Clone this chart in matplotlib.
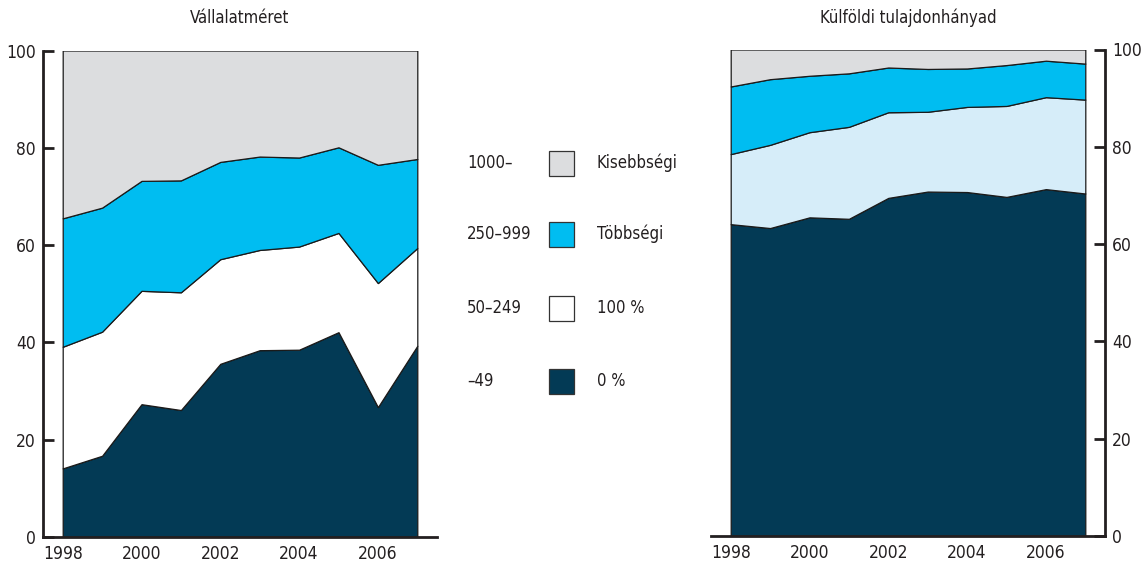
import matplotlib
matplotlib.use('Agg')
import matplotlib.pyplot as plt
from matplotlib.patches import Rectangle
from matplotlib import font_manager

# pick a narrow font if one is installed
names = set(f.name for f in font_manager.fontManager.ttflist)
if 'Liberation Sans Narrow' in names:
    plt.rcParams['font.family'] = ['Liberation Sans Narrow', 'DejaVu Sans']
else:
    plt.rcParams['font.family'] = ['DejaVu Sans']
    plt.rcParams['font.stretch'] = 'condensed'

txt = '#231f20'
plt.rcParams['text.color'] = txt
plt.rcParams['xtick.color'] = txt
plt.rcParams['ytick.color'] = txt

years = [1998, 1999, 2000, 2001, 2002, 2003, 2004, 2005, 2006, 2007]

# Vállalatméret (létszám-kategóriák), %
size_49 = [14.1, 16.7, 27.3, 26.1, 35.6, 38.4, 38.5, 42.1, 26.7, 39.3]
size_50_249 = [25.0, 25.5, 23.3, 24.2, 21.5, 20.6, 21.2, 20.4, 25.5, 20.1]
size_250_999 = [26.4, 25.5, 22.6, 23.0, 20.0, 19.2, 18.3, 17.6, 24.3, 18.3]
size_1000 = [34.5, 32.3, 26.8, 26.7, 22.9, 21.8, 22.0, 19.9, 23.5, 22.3]

# Külföldi tulajdonhányad, %
own_0 = [64.1, 63.3, 65.5, 65.2, 69.5, 70.8, 70.7, 69.7, 71.3, 70.4]
own_100 = [14.4, 17.1, 17.5, 18.9, 17.6, 16.4, 17.5, 18.7, 18.9, 19.3]
own_major = [13.9, 13.5, 11.6, 11.0, 9.2, 8.8, 7.9, 8.4, 7.5, 7.4]
own_minor = [7.6, 6.1, 5.4, 4.9, 3.7, 4.0, 3.9, 3.2, 2.3, 2.9]

size_labels = ['1000–', '250–999', '50–249', '–49']
own_labels = ['Kisebbségi', 'Többségi', '100 %', '0 %']

navy = '#033a55'
cyan = '#00bdf1'
grey = '#dcdddf'
pale = '#d6edf9'

fig = plt.figure(figsize=(11.41, 5.67), dpi=100)

ax1 = fig.add_axes([43/1141, 30/567, 394/1141, 486.5/567])
ax2 = fig.add_axes([711/1141, 31/567, 394/1141, 486.5/567])

ax1.stackplot(years, size_49, size_50_249, size_250_999, size_1000,
              colors=[navy, 'white', cyan, grey], edgecolor='#1a1a1a', linewidth=0.9)
ax2.stackplot(years, own_0, own_100, own_major, own_minor,
              colors=[navy, pale, cyan, grey], edgecolor='#1a1a1a', linewidth=0.9)

for ax in (ax1, ax2):
    ax.set_xlim(1997.5, 2007.5)
    ax.set_ylim(0, 100)
    ax.set_xticks([1998, 2000, 2002, 2004, 2006])
    ax.set_yticks([0, 20, 40, 60, 80, 100])
    ax.tick_params(axis='x', length=0, pad=6, labelsize=12.5)
    ax.tick_params(axis='y', direction='in', length=8, width=2, pad=5, labelsize=12.5)
    ax.spines['top'].set_visible(False)
    for s in ax.spines.values():
        s.set_linewidth(2)
        s.set_color(txt)

ax1.spines['right'].set_visible(False)
ax2.spines['left'].set_visible(False)
ax2.yaxis.tick_right()

fig.text(240/1141, 1 - 18/567, 'Vállalatméret', ha='center', va='center', fontsize=12)
fig.text(908/1141, 1 - 18/567, 'Külföldi tulajdonhányad', ha='center', va='center', fontsize=12)

# közös jelmagyarázat a két ábra között
leg_y = [163, 234, 308, 381]
leg_colors = [grey, cyan, 'white', navy]
for lab_l, lab_r, yy, col in zip(size_labels, own_labels, leg_y, leg_colors):
    fy = 1 - yy / 567
    fig.text(467/1141, fy, lab_l, ha='left', va='center', fontsize=12)
    fig.text(597/1141, fy, lab_r, ha='left', va='center', fontsize=12)
    fig.patches.append(Rectangle((549/1141, 1 - (yy + 12.5)/567), 25/1141, 25/567,
                                 transform=fig.transFigure, facecolor=col,
                                 edgecolor='#333333', linewidth=0.9))

fig.savefig('out.png', dpi=100)
